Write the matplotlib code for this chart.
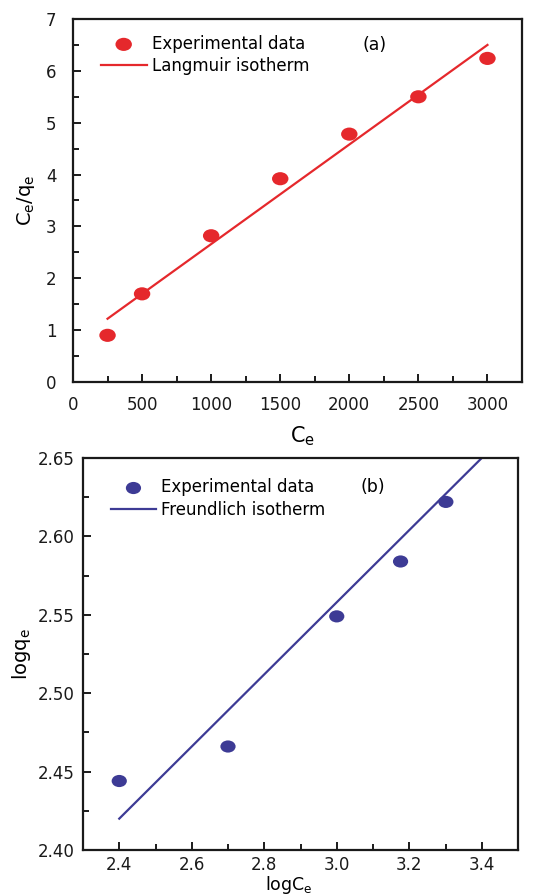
import matplotlib
matplotlib.use("Agg")
import matplotlib.pyplot as plt
from matplotlib.ticker import MultipleLocator, FormatStrFormatter
from matplotlib.path import Path
from matplotlib.transforms import Affine2D
import numpy as np

plt.rcParams['font.family'] = ['DejaVu Sans']
plt.rcParams['mathtext.fontset'] = 'dejavusans'

# Panel (a): Langmuir
ce_a = [250, 500, 1000, 1500, 2000, 2500, 3000]
ceqe_a = [0.90, 1.70, 2.82, 3.92, 4.78, 5.50, 6.24]
fit_a_x = [250, 3000]
fit_a_y = [1.22, 6.50]

# Panel (b): Freundlich
logce_b = [2.40, 2.70, 3.00, 3.176, 3.301]
logqe_b = [2.444, 2.466, 2.549, 2.584, 2.622]
fit_b_x = [2.40, 3.40]
fit_b_y = [2.420, 2.650]

red = '#e5282c'
blue = '#3d3b95'

ellipse = Path.unit_circle().transformed(Affine2D().scale(1.25, 1.0))

W, H = 536, 896
fig = plt.figure(figsize=(W/100, H/100), dpi=100)
fig.patch.set_facecolor('white')

def box(l, t, r, b):
    return [l/W, 1 - b/H, (r-l)/W, (b-t)/H]

ax1 = fig.add_axes(box(73, 19, 522, 382))
ax2 = fig.add_axes(box(83, 458, 518, 850))

fs_tick = 12
for ax in (ax1, ax2):
    for s in ax.spines.values():
        s.set_linewidth(1.6)
        s.set_color('#1a1a1a')
    ax.tick_params(which='both', direction='in', top=False, right=False,
                   labelsize=fs_tick, width=1.4, color='#1a1a1a', labelcolor='#1a1a1a')
    ax.tick_params(which='major', length=6)
    ax.tick_params(which='minor', length=4)
ax1.tick_params(axis='y', pad=12)
ax1.tick_params(axis='x', pad=10)
ax2.tick_params(axis='y', pad=6)
ax2.tick_params(axis='x', pad=4)

# (a)
ax1.plot(fit_a_x, fit_a_y, color=red, lw=1.6, label='Langmuir isotherm')
ax1.scatter(ce_a, ceqe_a, s=140, marker=ellipse, color=red, edgecolors='none',
            zorder=3, label='Experimental data')
ax1.set_xlim(0, 3250)
ax1.set_ylim(0, 7)
ax1.xaxis.set_major_locator(MultipleLocator(500))
ax1.xaxis.set_minor_locator(MultipleLocator(250))
ax1.yaxis.set_major_locator(MultipleLocator(1))
ax1.yaxis.set_minor_locator(MultipleLocator(0.5))
ax1.set_xlabel(r'C$_\mathregular{e}$', fontsize=15)
ax1.set_ylabel(r'C$_\mathregular{e}$/q$_\mathregular{e}$', fontsize=14)
ax1.xaxis.set_label_coords((303 - 73) / 449, -(424 - 382) / 363)
ax1.yaxis.set_label_coords(-(73 - 37) / 449, 0.5)
h, l = ax1.get_legend_handles_labels()
ax1.legend([h[1], h[0]], [l[1], l[0]], loc='upper left', frameon=False,
           fontsize=12, bbox_to_anchor=(0.047, 0.975), handlelength=2.75,
           handletextpad=0.3, labelspacing=0.25, borderaxespad=0)
ax1.text((375 - 73) / 449, (382 - 45) / 363, '(a)', transform=ax1.transAxes,
         fontsize=12.5, ha='center', va='center')

# (b)
ax2.plot(fit_b_x, fit_b_y, color=blue, lw=1.6, label='Freundlich isotherm')
ax2.scatter(logce_b, logqe_b, s=120, marker=ellipse, color=blue, edgecolors='none',
            zorder=3, label='Experimental data')
ax2.set_xlim(2.3, 3.5)
ax2.set_ylim(2.40, 2.65)
ax2.xaxis.set_major_locator(MultipleLocator(0.2))
ax2.xaxis.set_minor_locator(MultipleLocator(0.1))
ax2.yaxis.set_major_locator(MultipleLocator(0.05))
ax2.yaxis.set_minor_locator(MultipleLocator(0.025))
ax2.xaxis.set_major_formatter(FormatStrFormatter('%.1f'))
ax2.yaxis.set_major_formatter(FormatStrFormatter('%.2f'))
ax2.set_xlabel(r'logC$_\mathregular{e}$', fontsize=12.5)
ax2.set_ylabel(r'logq$_\mathregular{e}$', fontsize=14)
ax2.xaxis.set_label_coords((289 - 83) / 435, -(874 - 850) / 392)
ax2.yaxis.set_label_coords(-(83 - 33) / 435, 0.5)
h, l = ax2.get_legend_handles_labels()
ax2.legend([h[1], h[0]], [l[1], l[0]], loc='upper left', frameon=False,
           fontsize=12, bbox_to_anchor=(0.048, 0.965), handlelength=2.75,
           handletextpad=0.3, labelspacing=0.25, borderaxespad=0)
ax2.text((373 - 83) / 435, (850 - 487) / 392, '(b)', transform=ax2.transAxes,
         fontsize=12.5, ha='center', va='center')

fig.savefig('out.png', dpi=100, facecolor='white')
